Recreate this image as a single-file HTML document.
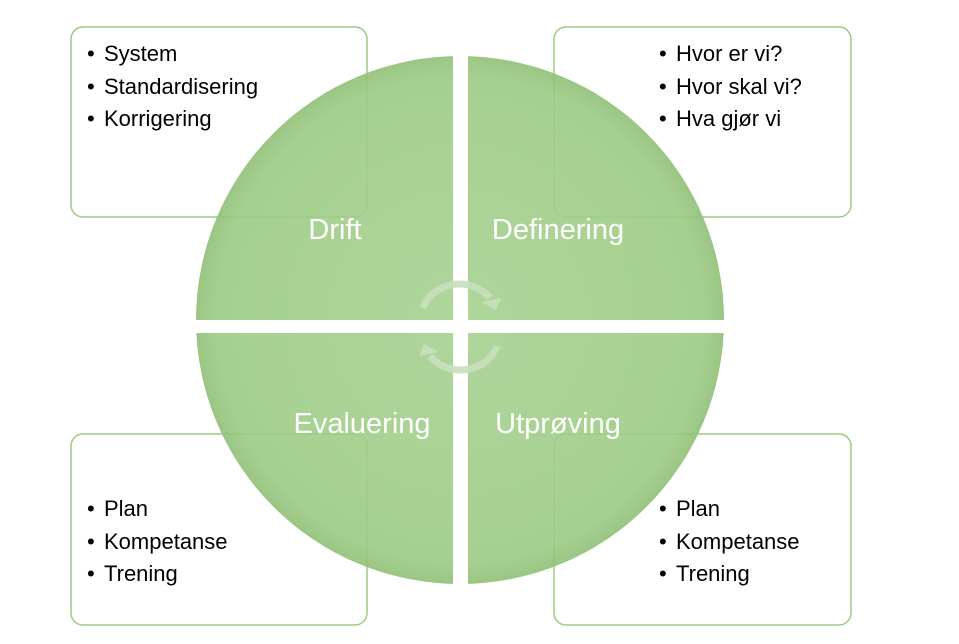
<!DOCTYPE html>
<html><head><style>
body{margin:0;background:#fff;width:959px;height:639px;overflow:hidden;font-family:"Liberation Sans",sans-serif}
</style></head><body>
<svg width="959" height="639" xmlns="http://www.w3.org/2000/svg">
<defs>
<clipPath id="c">
<rect x="0" y="0" width="453" height="320"/>
<rect x="468" y="0" width="500" height="320"/>
<rect x="0" y="333" width="453" height="400"/>
<rect x="468" y="333" width="500" height="400"/>
</clipPath>
<radialGradient id="g" cx="0.5" cy="0.5" r="0.5">
<stop offset="0" stop-color="#a6d190"/><stop offset="0.92" stop-color="#9ccb83"/><stop offset="1" stop-color="#8fbf76"/>
</radialGradient>
</defs>
<g fill="#fff" stroke="#9ccb82" stroke-width="1.5">
<rect x="71" y="27" width="296" height="190" rx="12"/>
<rect x="554" y="27" width="297" height="190" rx="12"/>
<rect x="71" y="434" width="296" height="191" rx="12"/>
<rect x="554" y="434" width="297" height="191" rx="12"/>
</g>
<circle cx="460" cy="320" r="264" fill="url(#g)" opacity="0.9" clip-path="url(#c)"/>
<g fill="none" stroke="#c9dfbd" stroke-width="7" opacity="0.9">
<path d="M423 308 A 38 34 0 0 1 490 298"/>
<path d="M497 346 A 38 34 0 0 1 430 356"/>
</g>
<g fill="#c9dfbd" opacity="0.9">
<polygon points="481,302 501,298 496,310"/>
<polygon points="439,352 419,356 424,344"/>
</g>
<g fill="#fff" font-size="29" text-anchor="middle">
<text x="335" y="239">Drift</text>
<text x="558" y="239">Definering</text>
<text x="362" y="433">Evaluering</text>
<text x="558" y="433">Utprøving</text>
</g>
<g fill="#000" font-size="22">
<text x="87" y="61">•</text><text x="104" y="61">System</text>
<text x="87" y="94">•</text><text x="104" y="94">Standardisering</text>
<text x="87" y="126">•</text><text x="104" y="126">Korrigering</text>
<text x="659" y="61">•</text><text x="676" y="61">Hvor er vi?</text>
<text x="659" y="94">•</text><text x="676" y="94">Hvor skal vi?</text>
<text x="659" y="126">•</text><text x="676" y="126">Hva gjør vi</text>
<text x="87" y="516">•</text><text x="104" y="516">Plan</text>
<text x="87" y="549">•</text><text x="104" y="549">Kompetanse</text>
<text x="87" y="581">•</text><text x="104" y="581">Trening</text>
<text x="659" y="516">•</text><text x="676" y="516">Plan</text>
<text x="659" y="549">•</text><text x="676" y="549">Kompetanse</text>
<text x="659" y="581">•</text><text x="676" y="581">Trening</text>
</g>
</svg>
</body></html>
